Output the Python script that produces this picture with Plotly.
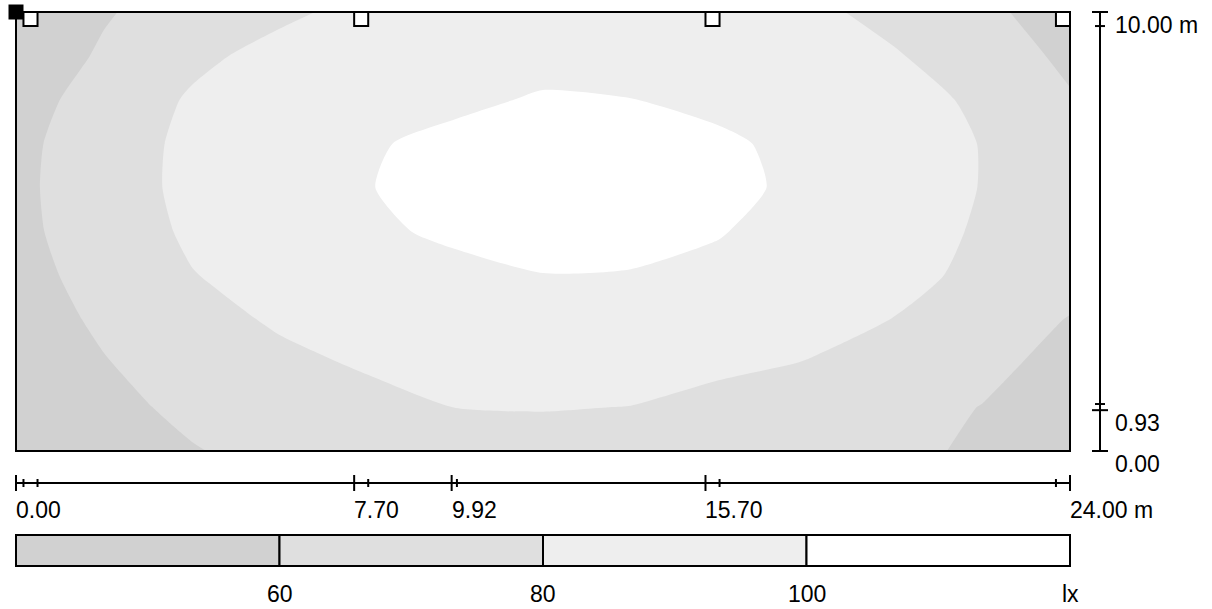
import plotly.graph_objects as go

# ---------------- data ----------------
x_m = [0, 2, 4, 6, 8, 10, 12, 14, 16, 18, 20, 22, 24]
y_m = [0, 1, 2, 3, 4, 5, 6, 7, 8, 9, 10]
E_lx = [
    [49.0, 55.0, 59.3, 63.5, 67.5, 71.0, 74.0, 74.0, 71.5, 67.5, 63.0, 58.0, 53.0],
    [51.0, 56.8, 62.6, 68.5, 74.3, 80.2, 80.7, 79.8, 74.5, 69.5, 64.6, 59.7, 55.0],
    [51.0, 59.2, 67.4, 75.5, 82.0, 85.0, 86.8, 86.0, 83.5, 79.5, 71.5, 63.6, 55.6],
    [52.2, 62.6, 73.0, 82.5, 87.5, 91.0, 93.0, 92.5, 90.0, 85.5, 79.7, 70.0, 59.2],
    [53.7, 66.5, 79.4, 86.0, 92.5, 97.0, 99.8, 99.5, 96.5, 91.5, 84.5, 76.5, 67.0],
    [55.0, 70.5, 82.5, 89.2, 98.0, 102.0, 103.5, 103.0, 100.8, 94.0, 86.0, 78.5, 70.0],
    [55.5, 72.0, 84.0, 91.5, 99.7, 103.0, 105.3, 104.5, 103.0, 97.5, 88.5, 79.5, 71.0],
    [55.0, 71.0, 84.0, 90.4, 99.0, 102.5, 104.5, 104.0, 102.5, 96.0, 88.0, 79.5, 68.0],
    [52.5, 67.5, 82.0, 87.0, 92.5, 98.0, 101.0, 100.2, 96.5, 91.5, 85.5, 77.5, 61.5],
    [49.5, 62.0, 76.0, 85.5, 90.5, 94.0, 96.5, 96.0, 93.0, 88.0, 81.5, 69.7, 56.3],
    [49.0, 58.6, 67.6, 76.6, 85.0, 88.5, 91.0, 90.5, 88.0, 84.5, 74.3, 63.4, 52.6],
]
levels = [60, 80, 100]
unit = "lx"
room_w = 24.0
room_d = 10.0
lum_x0 = [0.17, 7.70, 15.70, 23.68]
lum_size = 0.32
dim_x_major = [0.00, 7.70, 9.92, 15.70, 24.00]
dim_x_minor = [0.17, 0.49, 8.02, 10.04, 16.02, 23.68]
dim_y_major = [0.00, 0.93, 10.00]
dim_y_minor = [1.07, 9.68]

# ---------------- style / layout constants ----------------
fill_colors = ["#d1d1d1", "#dfdfdf", "#eeeeee", "#ffffff"]
W, H = 1212, 609
ML, MR, MT, MB = 4, 128, 4, 150
PX_X0, PX_X1 = 16, 1070      # room left / right in pixels
PX_Y0, PX_Y1 = 451, 12       # room bottom / top in pixels
FONT = dict(family="Liberation Sans, Arial, sans-serif", size=23, color="black")

plot_w = W - ML - MR
plot_h = H - MT - MB
sx = (PX_X1 - PX_X0) / room_w
sy = (PX_Y0 - PX_Y1) / room_d
xr0 = -(PX_X0 - ML) / sx
yr0 = -((H - MB) - PX_Y0) / sy
xr = [xr0, xr0 + plot_w / sx]
yr = [yr0, yr0 + plot_h / sy]


def pxx(p):
    return (p - ML) / plot_w


def pxy(p):
    return ((H - MB) - p) / plot_h


fig = go.Figure()
n = len(fill_colors)
fig.add_trace(go.Contour(
    x=x_m, y=y_m, z=E_lx,
    contours=dict(start=levels[0], end=levels[-1], size=levels[1] - levels[0],
                  coloring="fill", showlines=False),
    colorscale=[[i / (n - 1), c] for i, c in enumerate(fill_colors)],
    line=dict(width=0, smoothing=0.6),
    showscale=False, hoverinfo="skip",
))

shapes = []
LW = 2
# room outline
shapes.append(dict(type="rect", xref="x", yref="y", x0=0, x1=room_w, y0=0, y1=room_d,
                   line=dict(color="black", width=LW), fillcolor="rgba(0,0,0,0)"))
# luminaires
for lx in lum_x0:
    shapes.append(dict(type="rect", xref="x", yref="y", x0=lx, x1=lx + lum_size,
                       y0=room_d - lum_size, y1=room_d,
                       line=dict(color="black", width=LW), fillcolor="white"))
# origin marker
shapes.append(dict(type="rect", xref="x", yref="y", xsizemode="pixel", ysizemode="pixel",
                   xanchor=0, yanchor=room_d, x0=-7.5, x1=7.5, y0=-7.5, y1=7.5,
                   line=dict(color="black", width=0), fillcolor="black"))

# horizontal dimension line
HY = 483
shapes.append(dict(type="line", xref="x", yref="paper", x0=0, x1=room_w,
                   y0=pxy(HY), y1=pxy(HY), line=dict(color="black", width=LW)))
for v in dim_x_major:
    shapes.append(dict(type="line", xref="x", yref="paper", x0=v, x1=v,
                       y0=pxy(HY - 8), y1=pxy(HY + 8), line=dict(color="black", width=LW)))
for v in dim_x_minor:
    shapes.append(dict(type="line", xref="x", yref="paper", x0=v, x1=v,
                       y0=pxy(HY - 4), y1=pxy(HY + 4), line=dict(color="black", width=LW)))
# vertical dimension line
VX = 1100
shapes.append(dict(type="line", xref="paper", yref="y", x0=pxx(VX), x1=pxx(VX),
                   y0=0, y1=room_d, line=dict(color="black", width=LW)))
for v in dim_y_major:
    shapes.append(dict(type="line", xref="paper", yref="y", x0=pxx(VX - 8), x1=pxx(VX + 8),
                       y0=v, y1=v, line=dict(color="black", width=LW)))
for v in dim_y_minor:
    shapes.append(dict(type="line", xref="paper", yref="y", x0=pxx(VX - 5), x1=pxx(VX + 5),
                       y0=v, y1=v, line=dict(color="black", width=LW)))

# legend bar
LB_Y0, LB_Y1 = 535, 566
seg = (PX_X1 - PX_X0) / n
for i, c in enumerate(fill_colors):
    shapes.append(dict(type="rect", xref="paper", yref="paper",
                       x0=pxx(PX_X0 + i * seg), x1=pxx(PX_X0 + (i + 1) * seg),
                       y0=pxy(LB_Y1), y1=pxy(LB_Y0),
                       line=dict(color="black", width=LW), fillcolor=c))

ann = []
for i, v in enumerate(dim_x_major):
    txt = f"{v:.2f}" + (" m" if i == len(dim_x_major) - 1 else "")
    ann.append(dict(xref="x", yref="paper", x=v, y=pxy(510), text=txt, showarrow=False,
                    xanchor="left", yanchor="middle", font=FONT, xshift=-2))
for v in dim_y_major:
    txt = f"{v:.2f}" + (" m" if v == max(dim_y_major) else "")
    ann.append(dict(xref="paper", yref="y", x=pxx(1113), y=v, text=txt, showarrow=False,
                    xanchor="left", yanchor="middle", font=FONT, yshift=-13))
for i, lv in enumerate(levels):
    ann.append(dict(xref="paper", yref="paper", x=pxx(PX_X0 + (i + 1) * seg), y=pxy(594),
                    text=str(lv), showarrow=False, xanchor="center", yanchor="middle", font=FONT))
ann.append(dict(xref="paper", yref="paper", x=pxx(PX_X1), y=pxy(594), text=unit,
                showarrow=False, xanchor="center", yanchor="middle", font=FONT))

fig.update_layout(
    width=W, height=H,
    margin=dict(l=ML, r=MR, t=MT, b=MB, pad=0),
    paper_bgcolor="white", plot_bgcolor="white",
    xaxis=dict(range=xr, visible=False, fixedrange=True),
    yaxis=dict(range=yr, visible=False, fixedrange=True),
    shapes=shapes, annotations=ann, showlegend=False,
)
fig.write_html(
    "out.html",
    config={"displayModeBar": False},
    post_script="document.body.style.margin='0';document.body.style.overflow='hidden';",
)
